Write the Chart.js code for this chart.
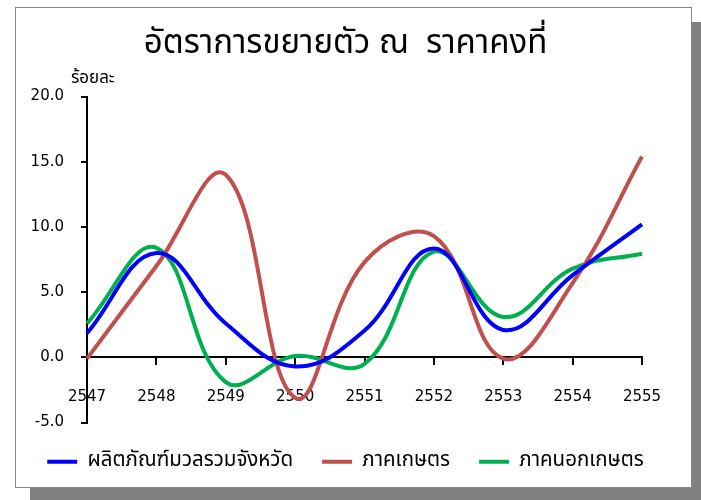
<!DOCTYPE html>
<html>
<head>
<meta charset="utf-8">
<script src="https://cdn.jsdelivr.net/npm/chart.js@4.4.1/dist/chart.umd.min.js"></script>
<style>
    body { margin: 0; background: #ffffff; }
    #shadow { position: absolute; left: 30px; top: 22px; width: 677px; height: 481px; background: #808080; }
    #frame { position: absolute; left: 15px; top: 7px; width: 677px; height: 481px; box-sizing: border-box; border: 1px solid #868686; background: #ffffff; }
    #wrap { position: absolute; left: 0; top: 0; width: 701px; height: 500px; }
</style>
</head>
<body>
<div id="shadow"></div>
<div id="frame"></div>
<div id="wrap"><canvas id="grafico"></canvas></div>
<script>
    const anos = ['2547', '2548', '2549', '2550', '2551', '2552', '2553', '2554', '2555'];
    const gpp = [1.85, 8.0, 2.6, -0.7, 2.05, 8.35, 2.1, 6.3, 10.2];
    const agri = [-0.1, 7.0, 14.0, -3.1, 7.3, 9.3, -0.1, 5.7, 15.4];
    const naoAgri = [2.6, 8.4, -1.9, 0.1, -0.5, 8.1, 3.1, 6.8, 7.95];

    const fonteThai = '"Noto Sans Thai", sans-serif';
    const fonteNum = '"DejaVu Sans", sans-serif';

    // rótulo "ร้อยละ" acima do eixo y
    const rotuloY = {
        id: 'rotuloY',
        afterDraw(chart) {
            const ctx = chart.ctx;
            ctx.save();
            ctx.font = '17px ' + fonteThai;
            ctx.fillStyle = '#000000';
            ctx.textBaseline = 'middle';
            ctx.fillText('ร้อยละ', 71, 80);
            ctx.restore();
        }
    };

    function serie(label, data, cor) {
        return {
            label: label,
            data: data,
            borderColor: cor,
            backgroundColor: cor,
            borderWidth: 4,
            pointRadius: 0,
            tension: 0.4,
            fill: false
        };
    }

    new Chart(document.getElementById('grafico').getContext('2d'), {
        type: 'line',
        data: {
            labels: anos,
            datasets: [
                serie('ผลิตภัณฑ์มวลรวมจังหวัด', gpp, '#0000FF'),
                serie('ภาคเกษตร', agri, '#C0504D'),
                serie('ภาคนอกเกษตร', naoAgri, '#00B050')
            ]
        },
        options: {
            responsive: true,
            maintainAspectRatio: false,
            animation: false,
            layout: { padding: { left: 0, right: 10, top: 0, bottom: 18 } },
            scales: {
                x: {
                    position: { y: 0 },
                    offset: false,
                    grid: { display: true, drawOnChartArea: false, drawTicks: true, tickLength: 7, color: '#000000', lineWidth: 2 },
                    border: { display: true, color: '#000000', width: 2 },
                    ticks: { color: '#000000', font: { family: fonteNum, size: 15 }, padding: 24, maxRotation: 0, autoSkip: false }
                },
                y: {
                    min: -5,
                    max: 20,
                    afterFit: s => { s.width = 87; },
                    grid: { display: true, drawOnChartArea: false, drawTicks: true, tickLength: 6, color: '#000000', lineWidth: 2 },
                    border: { display: true, color: '#000000', width: 2 },
                    ticks: {
                        stepSize: 5,
                        color: '#000000',
                        padding: 17,
                        font: { family: fonteNum, size: 15 },
                        callback: v => v.toFixed(1)
                    }
                },
                direita: {
                    position: 'right',
                    display: true,
                    afterFit: s => { s.width = 49; },
                    grid: { display: false },
                    border: { display: false },
                    ticks: { display: false }
                }
            },
            plugins: {
                title: {
                    display: true,
                    text: 'อัตราการขยายตัว ณ  ราคาคงที่',
                    color: '#000000',
                    font: { family: fonteThai, size: 33, weight: 'normal' },
                    padding: { top: 27, bottom: 30 }
                },
                legend: {
                    position: 'bottom',
                    labels: {
                        color: '#000000',
                        boxWidth: 30,
                        boxHeight: 4,
                        padding: 29,
                        font: { family: fonteThai, size: 20.5 },
                        generateLabels: chart => Chart.defaults.plugins.legend.labels.generateLabels(chart).map(item => {
                            item.lineWidth = 0;
                            return item;
                        })
                    }
                },
                tooltip: { enabled: false }
            }
        },
        plugins: [rotuloY]
    });
</script>
</body>
</html>
